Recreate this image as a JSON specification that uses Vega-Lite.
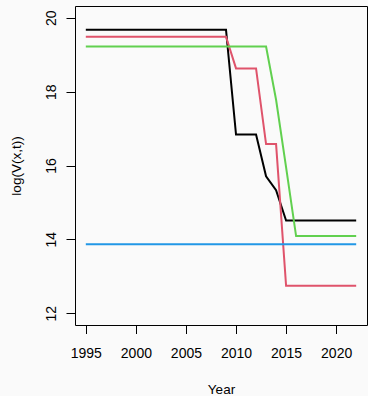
{
  "$schema": "https://vega.github.io/schema/vega-lite/v6.json",
  "width": 292,
  "height": 319,
  "autosize": "none",
  "padding": {"left": 75, "top": 6, "right": 1, "bottom": 71},
  "background": "#fafafa",
  "config": {"view": {"stroke": "#000000", "strokeWidth": 1}, "font": "Liberation Sans"},
  "data": {"values": [
    {"Year": 1995, "black": 19.68, "red": 19.49, "green": 19.22, "blue": 13.87},
    {"Year": 1996, "black": 19.68, "red": 19.49, "green": 19.22, "blue": 13.87},
    {"Year": 1997, "black": 19.68, "red": 19.49, "green": 19.22, "blue": 13.87},
    {"Year": 1998, "black": 19.68, "red": 19.49, "green": 19.22, "blue": 13.87},
    {"Year": 1999, "black": 19.68, "red": 19.49, "green": 19.22, "blue": 13.87},
    {"Year": 2000, "black": 19.68, "red": 19.49, "green": 19.22, "blue": 13.87},
    {"Year": 2001, "black": 19.68, "red": 19.49, "green": 19.22, "blue": 13.87},
    {"Year": 2002, "black": 19.68, "red": 19.49, "green": 19.22, "blue": 13.87},
    {"Year": 2003, "black": 19.68, "red": 19.49, "green": 19.22, "blue": 13.87},
    {"Year": 2004, "black": 19.68, "red": 19.49, "green": 19.22, "blue": 13.87},
    {"Year": 2005, "black": 19.68, "red": 19.49, "green": 19.22, "blue": 13.87},
    {"Year": 2006, "black": 19.68, "red": 19.49, "green": 19.22, "blue": 13.87},
    {"Year": 2007, "black": 19.68, "red": 19.49, "green": 19.22, "blue": 13.87},
    {"Year": 2008, "black": 19.68, "red": 19.49, "green": 19.22, "blue": 13.87},
    {"Year": 2009, "black": 19.68, "red": 19.49, "green": 19.22, "blue": 13.87},
    {"Year": 2010, "black": 16.84, "red": 18.63, "green": 19.22, "blue": 13.87},
    {"Year": 2011, "black": 16.84, "red": 18.63, "green": 19.22, "blue": 13.87},
    {"Year": 2012, "black": 16.84, "red": 18.63, "green": 19.22, "blue": 13.87},
    {"Year": 2013, "black": 15.71, "red": 16.58, "green": 19.22, "blue": 13.87},
    {"Year": 2014, "black": 15.33, "red": 16.58, "green": 17.78, "blue": 13.87},
    {"Year": 2015, "black": 14.51, "red": 12.74, "green": 15.95, "blue": 13.87},
    {"Year": 2016, "black": 14.51, "red": 12.74, "green": 14.09, "blue": 13.87},
    {"Year": 2017, "black": 14.51, "red": 12.74, "green": 14.09, "blue": 13.87},
    {"Year": 2018, "black": 14.51, "red": 12.74, "green": 14.09, "blue": 13.87},
    {"Year": 2019, "black": 14.51, "red": 12.74, "green": 14.09, "blue": 13.87},
    {"Year": 2020, "black": 14.51, "red": 12.74, "green": 14.09, "blue": 13.87},
    {"Year": 2021, "black": 14.51, "red": 12.74, "green": 14.09, "blue": 13.87},
    {"Year": 2022, "black": 14.51, "red": 12.74, "green": 14.09, "blue": 13.87}
  ]},
  "transform": [{"fold": ["black", "red", "green", "blue"], "as": ["series", "value"]}],
  "mark": {"type": "line", "strokeWidth": 2, "interpolate": "linear"},
  "encoding": {
    "x": {
      "field": "Year", "type": "quantitative",
      "scale": {"domain": [1993.92, 2023.08], "nice": false, "zero": false},
      "axis": {
        "values": [1995, 2000, 2005, 2010, 2015, 2020], "format": "d",
        "title": "Year", "domain": false, "grid": false,
        "tickSize": 8.5, "tickColor": "#000000", "tickWidth": 1,
        "labelColor": "#000000", "labelFontSize": 14, "labelBaseline": "alphabetic",
        "labelPadding": 24, "labelFlush": false, "labelOverlap": false,
        "titleFontSize": 13.5, "titleFontWeight": "normal", "titleColor": "#000000",
        "titleBaseline": "alphabetic", "titleY": 68
      }
    },
    "y": {
      "field": "value", "type": "quantitative",
      "scale": {"domain": [11.68, 20.32], "nice": false, "zero": false},
      "axis": {
        "values": [12, 14, 16, 18, 20],
        "title": "log(V(x,t))", "domain": false, "grid": false,
        "tickSize": 9, "tickColor": "#000000", "tickWidth": 1,
        "labelColor": "#000000", "labelFontSize": 14, "labelAngle": 270,
        "labelAlign": "center", "labelBaseline": "alphabetic", "labelPadding": 11,
        "labelFlush": false, "labelOverlap": false,
        "titleFontSize": 13.5, "titleFontWeight": "normal", "titleColor": "#000000",
        "titleAngle": 270, "titleAlign": "center", "titleBaseline": "alphabetic",
        "titleX": -55, "titleY": 159.5
      }
    },
    "color": {
      "field": "series", "type": "nominal",
      "scale": {"domain": ["black", "red", "green", "blue"], "range": ["#000000", "#DF536B", "#61D04F", "#2297E6"]},
      "legend": null
    }
  }
}
